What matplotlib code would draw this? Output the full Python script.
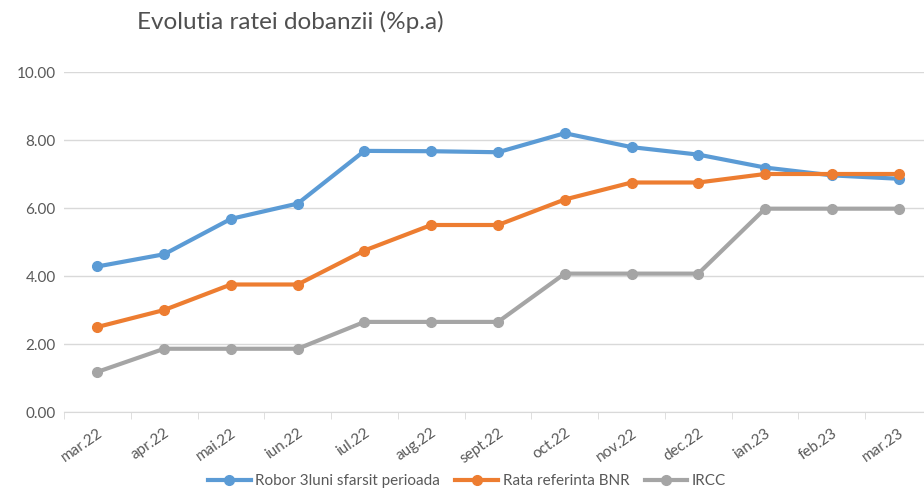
import matplotlib
matplotlib.use("Agg")
import matplotlib.pyplot as plt
from matplotlib.ticker import MultipleLocator, FixedLocator

months = ["mar.22", "apr.22", "mai.22", "iun.22", "iul.22", "aug.22", "sept.22",
          "oct.22", "nov.22", "dec.22", "ian.23", "feb.23", "mar.23"]
robor = [4.28, 4.64, 5.68, 6.13, 7.68, 7.67, 7.64, 8.20, 7.79, 7.57, 7.19, 6.96, 6.86]
bnr = [2.50, 3.00, 3.75, 3.75, 4.75, 5.50, 5.50, 6.25, 6.75, 6.75, 7.00, 7.00, 7.00]
ircc = [1.18, 1.86, 1.86, 1.86, 2.65, 2.65, 2.65, 4.07, 4.07, 4.07, 5.98, 5.98, 5.98]
names = ["Robor 3luni sfarsit perioada", "Rata referinta BNR", "IRCC"]
colors = ["#5B9BD5", "#ED7D31", "#A5A5A5"]

plt.rcParams['font.family'] = ['Lato', 'DejaVu Sans']
txt = "#595959"

fig = plt.figure(figsize=(9.24, 4.91), dpi=100)
W, H = 924, 491
ax = fig.add_axes([64 / W, 1 - 412 / H, (932 - 64) / W, (412 - 72) / H])

x = list(range(len(months)))
for vals, name, c in zip([robor, bnr, ircc], names, colors):
    ax.plot(x, vals, '-o', color=c, lw=3, ms=7, label=name, zorder=3)

ax.set_xlim(-0.5, len(months) - 0.5)
ax.set_ylim(0, 10)
ax.yaxis.set_major_locator(MultipleLocator(2))
ax.yaxis.set_major_formatter(lambda v, p: f"{v:.2f}")
ax.grid(axis='y', color="#d9d9d9", lw=1)
ax.set_axisbelow(True)
for s in ['top', 'right', 'left']:
    ax.spines[s].set_visible(False)
ax.spines['bottom'].set_color("#d9d9d9")
ax.tick_params(axis='y', length=0, pad=6, labelsize=11, labelcolor=txt)

ax.set_xticks(x)
ax.set_xticklabels(months, rotation=35, ha='right', rotation_mode='anchor',
                   fontsize=11, color=txt)
ax.tick_params(axis='x', length=0, pad=10)
ax.xaxis.set_minor_locator(FixedLocator([i - 0.5 for i in range(len(months) + 1)]))
ax.tick_params(axis='x', which='minor', length=5, color="#d9d9d9")

fig.text(137 / W, 1 - 22 / H, "Evolutia ratei dobanzii (%p.a)", fontsize=17.5,
         color="#505050", va='center', ha='left')

fig.legend(loc='center', bbox_to_anchor=(467 / W, 1 - 481 / H), ncol=3,
           frameon=False, fontsize=11, labelcolor=txt, handlelength=2.8,
           columnspacing=1.0, handletextpad=0.3)

fig.savefig("out.png", dpi=100)
